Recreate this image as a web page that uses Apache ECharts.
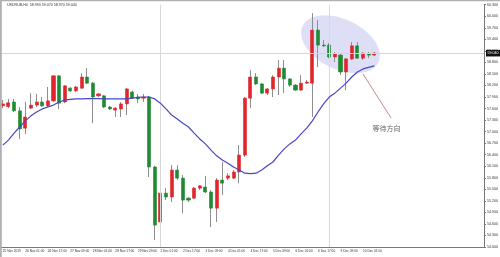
<!DOCTYPE html>
<html><head><meta charset="utf-8">
<script src="https://cdn.jsdelivr.net/npm/echarts@6/dist/echarts.min.js"></script>
<style>html,body{margin:0;padding:0;background:#fff}#c{width:500px;height:257px}</style>
</head><body><div id="c"></div>
<script>
const tickLabels = ["25 Nov 2019","26 Nov 01:00","26 Nov 17:00","27 Nov 09:00","28 Nov 01:00","28 Nov 17:00","29 Nov 09:00","2 Dec 01:00","2 Dec 17:00","3 Dec 09:00","4 Dec 01:00","4 Dec 17:00","5 Dec 09:00","6 Dec 01:00","6 Dec 17:00","9 Dec 09:00","10 Dec 01:00"];
const opens = [57.67,57.65,57.77,57.54,57.09,57.61,57.69,57.77,57.67,57.80,
58.45,57.77,58.13,58.06,58.13,58.42,58.26,57.93,57.93,57.64,
57.56,57.59,57.72,58.03,57.90,57.87,57.90,56.08,54.65,55.40,
55.30,56.00,55.79,55.27,55.27,55.53,55.56,55.43,55.01,55.74,
55.79,55.79,55.95,56.39,57.87,58.42,58.24,58.00,58.11,58.42,
58.65,58.37,58.21,58.08,58.26,58.26,59.64,59.25,59.25,58.94,
58.99,58.55,58.89,59.23,58.91,59.02,58.99];
const closes = [57.72,57.75,57.54,57.07,57.38,57.69,57.77,57.67,57.80,58.45,
57.74,58.19,58.06,58.16,58.42,58.26,57.90,57.98,57.64,57.59,
57.61,57.72,58.11,57.87,57.85,57.90,56.08,54.57,55.40,55.30,
56.00,55.79,55.22,55.22,55.53,55.59,55.43,55.01,55.74,55.66,
55.85,55.95,56.39,57.87,58.42,58.24,58.00,58.11,58.42,58.65,
58.37,58.21,58.08,58.26,58.29,59.64,59.25,59.23,58.94,59.02,
58.55,58.89,59.23,58.91,59.04,58.99,59.04];
const lows = [57.61,57.61,57.51,56.81,56.94,57.59,57.64,57.64,57.64,57.77,
57.59,57.74,58.03,58.03,58.11,58.24,57.22,57.90,57.61,57.56,
57.38,57.38,57.43,57.85,57.74,57.77,55.82,54.18,54.62,55.22,
55.17,55.74,54.88,55.17,55.25,55.48,55.40,54.52,54.65,55.35,
55.74,55.77,55.66,56.34,57.61,58.21,57.98,57.95,57.90,57.95,
58.00,58.16,58.06,58.06,58.24,57.38,58.68,59.20,58.91,58.81,
58.47,58.08,58.86,58.89,58.86,58.91,58.97];
const highs = [57.82,57.85,57.85,57.64,57.77,58.00,57.98,57.90,58.16,58.47,
58.47,58.21,58.16,58.19,58.52,58.65,58.29,58.00,57.95,57.67,
57.64,57.77,58.13,58.06,57.98,57.98,57.93,56.11,55.56,55.53,
56.13,56.13,55.87,55.30,55.56,55.61,55.85,55.48,55.79,56.21,
55.92,56.00,56.65,57.90,58.60,58.52,58.26,58.13,58.47,58.86,
58.86,58.39,58.24,58.47,58.34,60.08,59.90,59.38,59.30,59.07,
59.04,58.91,59.33,59.33,59.07,59.07,59.07];
const ma = [56.65,56.78,56.96,57.12,57.28,57.41,57.51,57.59,57.64,57.69,
57.77,57.82,57.84,57.85,57.85,57.86,57.86,57.86,57.85,57.85,
57.85,57.85,57.85,57.87,57.89,57.90,57.90,57.85,57.74,57.59,
57.43,57.33,57.22,57.12,56.96,56.81,56.68,56.52,56.37,56.26,
56.18,56.08,56.00,55.92,55.91,55.92,56.00,56.11,56.21,56.39,
56.55,56.68,56.78,56.94,57.09,57.28,57.51,57.72,57.90,58.00,
58.13,58.26,58.42,58.55,58.63,58.67,58.71];
const yMin = 54.0, yMax = 60.3, yStep = 0.3;
const separators = [28, 58];
const note = "等待方向";
const titleText = "USDRUB,H4  58.990 59.070 58.970 59.040";

const slots = 86;
const cats = Array.from({length: slots}, (_, i) => String(i));
const ohlc = opens.map((o, i) => [o, closes[i], lows[i], highs[i]]);
const bodies = opens.map((o, i) => [o, closes[i], Math.min(o, closes[i]), Math.max(o, closes[i])]);
const lastPrice = closes[closes.length - 1];
const RED = '#e0252b', GREEN = '#1f8a33', WICK = '#8e8e8e';

const chart = echarts.init(document.getElementById('c'), null, {renderer: 'canvas'});
const option = {
  animation: false,
  backgroundColor: '#fff',
  grid: {left: 0, right: 16, top: 4.7, bottom: 10, outerBoundsMode: 'none'},
  xAxis: {
    type: 'category', data: cats, boundaryGap: true,
    axisLine: {lineStyle: {color: '#777', width: 1}},
    axisTick: {show: false},
    splitLine: {show: false},
    axisLabel: {
      interval: (i) => i % 4 === 0 && i / 4 < tickLabels.length,
      formatter: (v) => tickLabels[Number(v) / 4] || '',
      fontSize: 3.2, color: '#333', align: 'left', margin: 3
    }
  },
  yAxis: {
    type: 'value', position: 'right', scale: true,
    min: yMin, max: yMax, interval: yStep,
    axisLine: {show: true, lineStyle: {color: '#777', width: 1}},
    axisTick: {show: true, length: 2, lineStyle: {color: '#777'}},
    splitLine: {show: false},
    axisLabel: {fontSize: 3.6, color: '#333', margin: 3, formatter: (v) => v.toFixed(3)}
  },
  series: [
    {
      type: 'candlestick', name: 'wick', data: ohlc, barWidth: 1, z: 3,
      itemStyle: {color: WICK, color0: WICK, borderColor: WICK, borderColor0: WICK, borderWidth: 1},
      markLine: {
        silent: true, symbol: ['none', 'none'], animation: false,
        data: [
          {yAxis: lastPrice, lineStyle: {color: '#d6d6d6', width: 1, type: 'solid'},
           label: {show: true, position: 'end', distance: 2, formatter: () => lastPrice.toFixed(3),
                   backgroundColor: '#111', color: '#fff', fontSize: 3.6, padding: [1.3, 1.6]}},
          {xAxis: separators[0], lineStyle: {color: '#d8d8d8', width: 1, type: 'solid'}, label: {show: false}},
          {xAxis: separators[1], lineStyle: {color: '#d8d8d8', width: 1, type: 'solid'}, label: {show: false}},
          [{coord: [64, 58.50], lineStyle: {color: '#c67878', width: 0.9, type: 'solid'}, label: {show: false}},
           {coord: [69, 57.35]}]
        ]
      }
    },
    {
      type: 'candlestick', name: 'body', data: bodies, barWidth: 3.6, z: 4,
      itemStyle: {color: RED, color0: GREEN, borderColor: RED, borderColor0: GREEN, borderWidth: 0.6}
    },
    {
      type: 'line', name: 'MA', data: ma, symbol: 'none', z: 5,
      lineStyle: {color: '#4747c6', width: 1.2}
    }
  ]
};
chart.setOption(option);

const ctr = chart.convertToPixel({gridIndex: 0}, [60, 59.27]);
const txt = chart.convertToPixel({gridIndex: 0}, [68, 57.08]);
chart.setOption({
  graphic: [
    {type: 'ellipse', z: 0, x: ctr[0], y: ctr[1], rotation: -0.45,
     shape: {cx: 0, cy: 0, rx: 42, ry: 25}, style: {fill: '#dedff6'}, silent: true},
    {type: 'text', z: 10, x: txt[0] + 1, y: txt[1],
     style: {text: note, font: '7px "Noto Sans CJK SC"', fill: '#666', textAlign: 'center', textVerticalAlign: 'middle'}},
    {type: 'text', z: 10, x: 7, y: 3,
     style: {text: titleText, font: '3.6px "Liberation Sans"', fill: '#333', textAlign: 'left', textVerticalAlign: 'top'}},
    {type: 'rect', z: 10, shape: {x: 0, y: 0, width: 500, height: 1.2}, style: {fill: '#b0b0b0'}},
    {type: 'rect', z: 10, shape: {x: 0, y: 0, width: 1.8, height: 257}, style: {fill: '#b0b0b0'}}
  ]
});
</script></body></html>
